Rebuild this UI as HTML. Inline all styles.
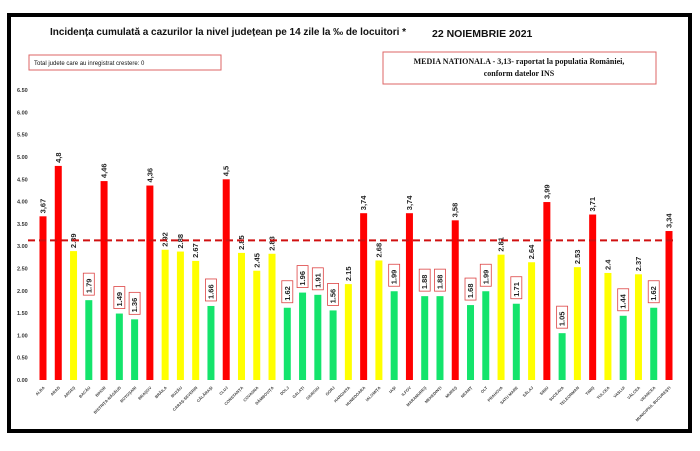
<!DOCTYPE html>
<html><head><meta charset="utf-8"><style>
body{margin:0;background:#fff;width:700px;height:446px;overflow:hidden;font-family:"Liberation Sans",sans-serif}
</style></head><body>
<svg id="chart" width="700" height="446" xmlns="http://www.w3.org/2000/svg">
<rect x="9" y="15" width="681" height="416" fill="#fff" stroke="#000" stroke-width="4"/>
<text x="50" y="35" font-size="10" font-weight="bold" fill="#111" textLength="356">Incidența cumulată a cazurilor la nivel județean pe 14 zile la ‰ de locuitori *</text>
<text x="432" y="37" font-size="10.5" font-weight="bold" fill="#111">22 NOIEMBRIE 2021</text>
<rect x="29" y="55" width="192" height="15" fill="#fff" stroke="#d66" stroke-width="1"/>
<text x="34" y="65" font-size="6" fill="#111">Total judete care au inregistrat crestere: 0</text>
<rect x="383" y="52" width="273" height="32" fill="#fff" stroke="#d66" stroke-width="1"/>
<text x="519" y="64" font-size="8" font-weight="bold" font-family="Liberation Serif,serif" text-anchor="middle" fill="#111">MEDIA NATIONALA - 3,13-  raportat la populatia  României,</text>
<text x="519" y="76" font-size="8" font-weight="bold" font-family="Liberation Serif,serif" text-anchor="middle" fill="#111">conform datelor INS</text>
<g id="yaxis"></g><g id="bars"></g><g id="xlabels"></g>
</svg>
<script>
const counties=["ALBA","ARAD","ARGEȘ","BACĂU","BIHOR","BISTRIȚA-NĂSĂUD","BOTOȘANI","BRAȘOV","BRĂILA","BUZĂU","CARAȘ-SEVERIN","CĂLĂRAȘI","CLUJ","CONSTANȚA","COVASNA","DÂMBOVIȚA","DOLJ","GALAȚI","GIURGIU","GORJ","HARGHITA","HUNEDOARA","IALOMIȚA","IAȘI","ILFOV","MARAMUREȘ","MEHEDINȚI","MUREȘ","NEAMȚ","OLT","PRAHOVA","SATU MARE","SĂLAJ","SIBIU","SUCEAVA","TELEORMAN","TIMIȘ","TULCEA","VASLUI","VÂLCEA","VRANCEA","MUNICIPIUL BUCUREȘTI"];
const values=[3.67,4.8,2.89,1.79,4.46,1.49,1.36,4.36,2.92,2.88,2.67,1.66,4.5,2.85,2.45,2.83,1.62,1.96,1.91,1.56,2.15,3.74,2.68,1.99,3.74,1.88,1.88,3.58,1.68,1.99,2.81,1.71,2.64,3.99,1.05,2.53,3.71,2.4,1.44,2.37,1.62,3.34];
const labels=["3,67","4,8","2.89","1.79","4,46","1.49","1.36","4,36","2.92","2.88","2.67","1.66","4,5","2.85","2.45","2.83","1.62","1.96","1.91","1.56","2.15","3,74","2.68","1.99","3,74","1.88","1.88","3,58","1.68","1.99","2.81","1.71","2.64","3,99","1.05","2.53","3,71","2.4","1.44","2.37","1.62","3,34"];
const yTicks=[0,0.5,1,1.5,2,2.5,3,3.5,4,4.5,5,5.5,6,6.5];
const average=[3.13];
const NS="http://www.w3.org/2000/svg";
const y0=380,pxPerUnit=44.6;
const yScale=v=>y0-v*pxPerUnit;
const xScale=i=>43+i*(669-43)/(counties.length-1);
function mk(t,a,p){const e=document.createElementNS(NS,t);for(const k in a)e.setAttribute(k,a[k]);p.appendChild(e);return e;}
const ya=document.getElementById('yaxis');
yTicks.forEach(v=>{
const t=mk('text',{x:17,y:yScale(v)+2,'font-size':5.5,'font-weight':'bold',fill:'#333'},ya);


t.textContent=v.toFixed(2);
});
const bg=document.getElementById('bars'),xl=document.getElementById('xlabels');
values.forEach((v,i)=>{
const col=v>average[0]?'#ff0000':(v>=2?'#ffff00':'#14e46c');
const x=xScale(i),y=yScale(v);
const r=mk('rect',{x:x-3.5,y:y,width:7,height:y0-y,fill:col},bg);


const boxed=v<2;
if(boxed){
const bx=mk('rect',{x:x-5.5,y:y-27,width:11,height:22,fill:'#fff',stroke:'#d44','stroke-width':0.8},bg);


}
const lt=mk('text',{x:0,y:0,'font-size':7.5,'font-weight':'bold',fill:'#222',transform:`translate(${x+2.5},${boxed?y-7:y-3}) rotate(-90)`},bg);


lt.textContent=labels[i];
const xt=mk('text',{x:0,y:0,'font-size':4,'font-weight':'bold',fill:'#444','text-anchor':'end',transform:`translate(${x+2},${y0+8}) rotate(-45)`},xl);


xt.textContent=counties[i];
});
const ln=mk('line',{x1:28,x2:676,y1:yScale(average[0]),y2:yScale(average[0]),stroke:'#d01010','stroke-width':2,'stroke-dasharray':'7,4'},bg);


</script>
</body></html>
